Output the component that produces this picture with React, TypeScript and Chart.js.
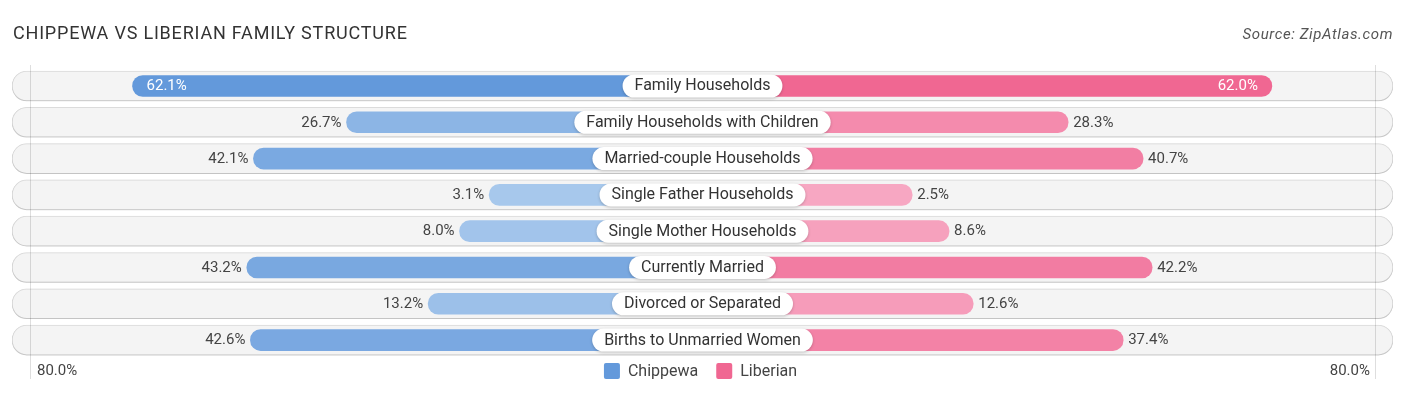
import React, { useEffect, useRef } from "react";
import { Chart, registerables } from "chart.js";

Chart.register(...registerables);

const categories = [
  "Family Households",
  "Family Households with Children",
  "Married-couple Households",
  "Single Father Households",
  "Single Mother Households",
  "Currently Married",
  "Divorced or Separated",
  "Births to Unmarried Women",
];
const chippewa = [62.1, 26.7, 42.1, 3.1, 8.0, 43.2, 13.2, 42.6];
const liberian = [62.0, 28.3, 40.7, 2.5, 8.6, 42.2, 12.6, 37.4];
const seriesNames = ["Chippewa", "Liberian"];
const axisMaxLabel = "80.0%";
const titleText = "CHIPPEWA VS LIBERIAN FAMILY STRUCTURE";
const sourceText = "Source: ZipAtlas.com";

// layout constants (scale units)
const OFFSET = 32.19; // room reserved for the centre label
const XMAX = 114.23;
const AXIS_LINE = 111.25;
const INSIDE_THRESHOLD = 55;

const BLUE_LIGHT = [171, 202, 237];
const BLUE = [99, 153, 219];
const PINK_LIGHT = [247, 170, 196];
const PINK = [240, 103, 146];
const mix = (a: number[], b: number[], t: number) =>
  `rgb(${a.map((x, i) => Math.round(x + (b[i] - x) * t)).join(",")})`;
const shade = (light: number[], strong: number[], v: number) =>
  mix(light, strong, Math.min(1, v / 62));

const FONT = "Roboto, 'Noto Sans', sans-serif";

const overlay = {
  id: "overlay",
  beforeDatasetDraw(chart: any, args: any) {
    if (args.index === 0) {
      const ctx = chart.ctx;
      ctx.save();
      ctx.shadowColor = "rgba(0,0,0,0.2)";
      ctx.shadowBlur = 3;
      ctx.shadowOffsetY = 1;
    }
  },
  afterDatasetDraw(chart: any, args: any) {
    if (args.index === 0) {
      const ctx = chart.ctx;
      ctx.restore();
      const xs = chart.scales.x;
      const top = 57;
      const bottom = 371;
      ctx.save();
      ctx.strokeStyle = "rgba(0,0,0,0.13)";
      ctx.lineWidth = 1;
      [-AXIS_LINE, AXIS_LINE].forEach((v) => {
        const px = Math.round(xs.getPixelForValue(v)) + 0.5;
        ctx.beginPath();
        ctx.moveTo(px, top);
        ctx.lineTo(px, bottom);
        ctx.stroke();
      });
      ctx.restore();
    }
  },
  afterDatasetsDraw(chart: any) {
    const ctx = chart.ctx;
    const xs = chart.scales.x;
    const ys = chart.scales.y;
    const cx = xs.getPixelForValue(0);
    ctx.save();

    categories.forEach((cat, i) => {
      const y = ys.getPixelForValue(i);
      // centre pill
      ctx.font = `16px ${FONT}`;
      const w = ctx.measureText(cat).width + 24;
      const h = 23;
      ctx.save();
      ctx.shadowColor = "rgba(0,0,0,0.22)";
      ctx.shadowBlur = 3;
      ctx.shadowOffsetY = 1;
      ctx.fillStyle = "#ffffff";
      ctx.beginPath();
      (ctx as any).roundRect(cx - w / 2, y - h / 2, w, h, h / 2);
      ctx.fill();
      ctx.restore();
      ctx.fillStyle = "#333333";
      ctx.textAlign = "center";
      ctx.textBaseline = "middle";
      ctx.fillText(cat, cx, y + 0.5);

      // value labels
      ctx.font = `15px ${FONT}`;
      const lv = chippewa[i];
      const lx = xs.getPixelForValue(-(lv + OFFSET));
      if (lv > INSIDE_THRESHOLD) {
        ctx.fillStyle = "#ffffff";
        ctx.textAlign = "left";
        ctx.fillText(lv.toFixed(1) + "%", lx + 14, y + 0.5);
      } else {
        ctx.fillStyle = "#444444";
        ctx.textAlign = "right";
        ctx.fillText(lv.toFixed(1) + "%", lx - 5, y + 0.5);
      }
      const rv = liberian[i];
      const rx = xs.getPixelForValue(rv + OFFSET);
      if (rv > INSIDE_THRESHOLD) {
        ctx.fillStyle = "#ffffff";
        ctx.textAlign = "right";
        ctx.fillText(rv.toFixed(1) + "%", rx - 14, y + 0.5);
      } else {
        ctx.fillStyle = "#444444";
        ctx.textAlign = "left";
        ctx.fillText(rv.toFixed(1) + "%", rx + 5, y + 0.5);
      }
    });

    // title & source
    ctx.textBaseline = "alphabetic";
    ctx.textAlign = "left";
    ctx.fillStyle = "#333333";
    ctx.font = `18px ${FONT}`;
    (ctx as any).letterSpacing = "0.8px";
    ctx.fillText(titleText, 5, 31);
    ctx.textAlign = "right";
    ctx.fillStyle = "#555555";
    ctx.font = `italic 15px ${FONT}`;
    (ctx as any).letterSpacing = "0.6px";
    ctx.fillText(sourceText, 1385, 31);
    (ctx as any).letterSpacing = "0px";

    // axis end labels
    const ly = 363;
    ctx.textBaseline = "middle";
    ctx.font = `15px ${FONT}`;
    ctx.fillStyle = "#444444";
    ctx.textAlign = "left";
    ctx.fillText(axisMaxLabel, xs.getPixelForValue(-AXIS_LINE) + 7, ly);
    ctx.textAlign = "right";
    ctx.fillText(axisMaxLabel, xs.getPixelForValue(AXIS_LINE) - 5, ly);

    // legend
    ctx.font = `16px ${FONT}`;
    const colors = [mix(BLUE, BLUE, 0), mix(PINK, PINK, 0)];
    const widths = seriesNames.map((n) => 16 + 8 + ctx.measureText(n).width);
    const gap = 18;
    const total = widths[0] + widths[1] + gap;
    let x0 = cx - total / 2 - 2;
    seriesNames.forEach((n, k) => {
      ctx.fillStyle = colors[k];
      ctx.beginPath();
      (ctx as any).roundRect(x0, ly - 8, 16, 16, 2);
      ctx.fill();
      ctx.fillStyle = "#444444";
      ctx.textAlign = "left";
      ctx.fillText(n, x0 + 24, ly + 0.5);
      x0 += widths[k] + gap;
    });

    ctx.restore();
  },
};

export default function App() {
  const ref = useRef<HTMLCanvasElement | null>(null);
  useEffect(() => {
    if (!ref.current) return;
    const chart = new Chart(ref.current, {
      type: "bar",
      data: {
        labels: categories,
        datasets: [
          {
            label: "bg",
            data: categories.map(() => [-XMAX, XMAX]) as any,
            backgroundColor: "#f4f4f4",
            borderColor: "#e2e2e2",
            borderWidth: 1,
            borderRadius: 15,
            borderSkipped: false,
            barThickness: 30,
            grouped: false,
            order: 3,
          },
          {
            label: seriesNames[0],
            data: chippewa.map((v) => -(v + OFFSET)),
            backgroundColor: chippewa.map((v) => shade(BLUE_LIGHT, BLUE, v)),
            borderWidth: 0,
            borderRadius: 10.5,
            borderSkipped: false,
            barThickness: 21,
            grouped: false,
            order: 2,
          },
          {
            label: seriesNames[1],
            data: liberian.map((v) => v + OFFSET),
            backgroundColor: liberian.map((v) => shade(PINK_LIGHT, PINK, v)),
            borderWidth: 0,
            borderRadius: 10.5,
            borderSkipped: false,
            barThickness: 21,
            grouped: false,
            order: 1,
          },
        ],
      },
      options: {
        indexAxis: "y",
        responsive: false,
        animation: false,
        devicePixelRatio: 1,
        layout: { padding: { left: 4, right: 5, top: 59.85, bottom: 28.8 } },
        scales: {
          x: { type: "linear", min: -XMAX, max: XMAX, display: false },
          y: { type: "category", display: false, offset: true },
        },
        plugins: {
          legend: { display: false },
          tooltip: { enabled: false },
          title: { display: false },
        },
      },
      plugins: [overlay],
    });
    return () => chart.destroy();
  }, []);
  return (
    <div style={{ width: 1390, height: 379 }}>
      <canvas ref={ref} width={1390} height={379} />
    </div>
  );
}
